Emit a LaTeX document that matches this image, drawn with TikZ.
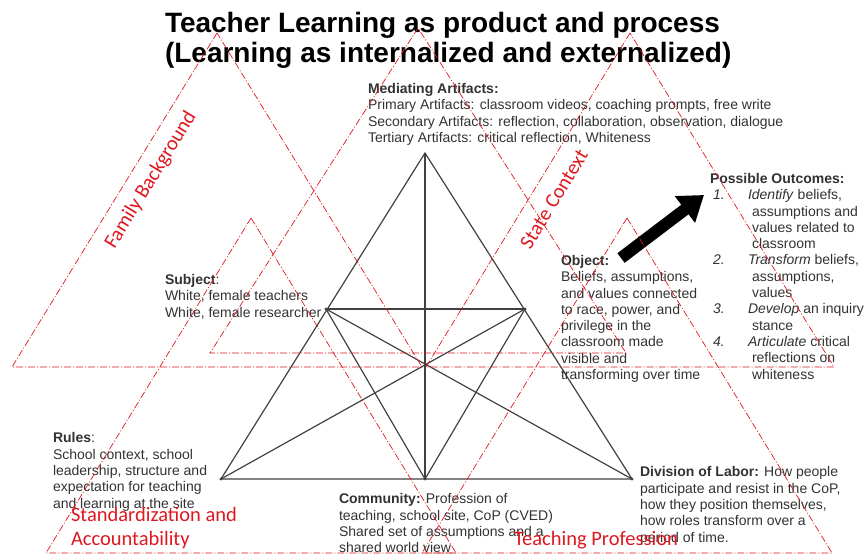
\documentclass[tikz,border=0pt]{standalone}
\usepackage{fontspec}
\setmainfont{Liberation Sans}
\newfontfamily\ctxfont{Carlito}
\usetikzlibrary{arrows.meta,positioning,calc}
\definecolor{ctxred}{RGB}{222,24,32}
\definecolor{inkgray}{RGB}{50,50,50}
\definecolor{linegray}{RGB}{65,65,65}

\begin{document}
\begin{tikzpicture}[x=1pt, y=-1pt,
  every node/.style={inner sep=0pt, outer sep=0pt},
  infotext/.style={anchor=base west, align=left, text=inkgray,
    font=\fontsize{14}{16.3}\selectfont},
  heading/.style={anchor=base west, align=left,
    font=\fontsize{28}{29.5}\selectfont\bfseries},
  context/.style={draw=ctxred, line width=0.7pt,
    dash pattern=on 7pt off 2pt on 1pt off 2pt},
  ctxlabel/.style={text=ctxred, font=\ctxfont\fontsize{20.5}{24}\selectfont},
  frame/.style={draw=linegray, line width=1.2pt}
]
\useasboundingbox (0,0) rectangle (864,556);

% title (multi-line nodes sit on their last baseline)
\node[heading] (title) at (165,62.5) {Teacher Learning as product and process\\(Learning as internalized and externalized)};

% activity triangle
\coordinate (apex) at (425,153);
\coordinate (lmid) at (326,309);
\coordinate (rmid) at (525,309);
\coordinate (bl) at (221,479);
\coordinate (bm) at (425,479);
\coordinate (br) at (632,479);
\coordinate (hub) at (intersection of lmid--br and rmid--bl);
\draw[frame] (apex) -- (bl) -- (br) -- cycle;
\foreach \a/\b in {lmid/rmid, apex/bm, lmid/bm, rmid/bm, lmid/br, rmid/bl}
  \draw[frame] (\a) -- (\b);
\foreach \v in {lmid, rmid, bl, bm, br, hub}
  \fill[linegray] (\v) circle (1.6pt);

% corner texts
\node[infotext] (mediating) at (368,142.5) {\textbf{Mediating Artifacts:}\\
  Primary Artifacts: classroom videos, coaching prompts, free write\\
  Secondary Artifacts: reflection, collaboration, observation, dialogue\\
  Tertiary Artifacts: critical reflection, Whiteness};
\node[infotext] (subject) at (165,317) {\textbf{Subject}:\\White, female teachers\\White, female researcher};
\node[infotext] (object) at (561,379.5) {\textbf{Object:}\\Beliefs, assumptions,\\and values connected\\to race, power, and\\privilege in the\\classroom made\\visible and\\transforming over time};
\node[infotext] (outcomes) at (710,379) {\textbf{Possible Outcomes:}\\
  \hspace*{3pt}\makebox[35pt][l]{\textit{1.}}\textit{Identify} beliefs,\\
  \hspace*{42pt}assumptions and\\
  \hspace*{42pt}values related to\\
  \hspace*{42pt}classroom\\
  \hspace*{3pt}\makebox[35pt][l]{\textit{2.}}\textit{Transform} beliefs,\\
  \hspace*{42pt}assumptions,\\
  \hspace*{42pt}values\\
  \hspace*{3pt}\makebox[35pt][l]{\textit{3.}}\textit{Develop} an inquiry\\
  \hspace*{42pt}stance\\
  \hspace*{3pt}\makebox[35pt][l]{\textit{4.}}\textit{Articulate} critical\\
  \hspace*{42pt}reflections on\\
  \hspace*{42pt}whiteness};
\node[infotext] (rules) at (53,508) {\textbf{Rules}:\\School context, school\\leadership, structure and\\expectation for teaching\\and learning at the site};
\node[infotext] (community) at (339,552.7) {\textbf{Community:} Profession of\\teaching, school site, CoP (CVED)\\Shared set of assumptions and a\\shared world view};
\node[infotext] (division) at (640,542) {\textbf{Division of Labor:} How people\\participate and resist in the CoP,\\how they position themselves,\\how roles transform over a\\period of time.};

% arrow to outcomes
\coordinate (shafttail) at (621,258);
\coordinate (shafttip) at (704,195);
\draw[line width=12pt, -{Triangle[width=32pt, length=24pt]}] (shafttail) -- (shafttip);

% context triangles
\draw[context] (217,33) -- (12,367) -- (422,367) -- cycle;
\draw[context] (418,28) -- (210,353) -- (626,353) -- cycle;
\draw[context] (630,33) -- (426,367) -- (834,367) -- cycle;
\draw[context] (251,218) -- (46,553) -- (456,553) -- cycle;
\draw[context] (627,218) -- (422,553) -- (832,553) -- cycle;

% context labels
\node[ctxlabel, rotate=58.6] (family) at (151,180) {Family Background};
\node[ctxlabel, rotate=58.6] (state) at (554,199) {State Context};
\node[ctxlabel, anchor=base west, align=left] (standard) at (71,545.7) {Standardization and\\Accountability};
\node[ctxlabel, anchor=base west] (profession) at (514,545.7) {Teaching Profession};
\end{tikzpicture}
\end{document}
